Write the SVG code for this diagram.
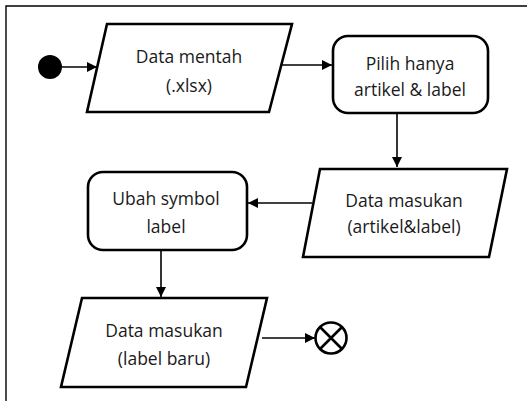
<svg xmlns="http://www.w3.org/2000/svg" width="527" height="401" viewBox="0 0 527 401">
  <style>
    .shape { fill: #ffffff; stroke: #000000; stroke-width: 2.6; stroke-linejoin: miter; }
    .edge { fill: none; stroke: #000000; stroke-width: 1.6; }
    .lbl { font-family: "Open Sans", "Liberation Sans", Arial, sans-serif; font-size: 17.5px; fill: #1a1a1a; text-anchor: middle; }
  </style>
  <defs>
    <marker id="arrow" viewBox="0 0 10 10" refX="10" refY="5" markerWidth="10" markerHeight="10" markerUnits="userSpaceOnUse" orient="auto">
      <path d="M0,0 L10,5 L0,10 Z" fill="#000000"/>
    </marker>
  </defs>

  <rect width="527" height="401" fill="#ffffff"/>
  <!-- frame: top and left edges only -->
  <path d="M6,401 L6,6 L527,6" fill="none" stroke="#000000" stroke-width="1.4"/>

  <g id="connectors">
    <path class="edge" d="M62,67 L97,67" marker-end="url(#arrow)"/>
    <path class="edge" d="M279,65 L332,65" marker-end="url(#arrow)"/>
    <path class="edge" d="M397,114 L397,167" marker-end="url(#arrow)"/>
    <path class="edge" d="M312,203 L248,203" marker-end="url(#arrow)"/>
    <path class="edge" d="M161,251 L161,297" marker-end="url(#arrow)"/>
    <path class="edge" d="M262,338 L315,338" marker-end="url(#arrow)"/>
  </g>

  <g id="start">
    <circle cx="50" cy="67" r="12" fill="#000000"/>
  </g>

  <g id="data-mentah">
    <polygon class="shape" points="107,24 292,24 269,112 87,112"/>
    <text class="lbl" x="189" y="63">Data mentah</text>
    <text class="lbl" x="189" y="92">(.xlsx)</text>
  </g>

  <g id="pilih-artikel-label">
    <rect class="shape" x="333" y="36" width="155" height="77" rx="15" ry="15"/>
    <text class="lbl" x="410" y="70">Pilih hanya</text>
    <text class="lbl" x="410" y="96">artikel &amp; label</text>
  </g>

  <g id="data-masukan-1">
    <polygon class="shape" points="320,169 507,169 489,257 303,257"/>
    <text class="lbl" x="404" y="207">Data masukan</text>
    <text class="lbl" x="404" y="233">(artikel&amp;label)</text>
  </g>

  <g id="ubah-symbol-label">
    <rect class="shape" x="88" y="172" width="159" height="78" rx="15" ry="15"/>
    <text class="lbl" x="166" y="205">Ubah symbol</text>
    <text class="lbl" x="166" y="233">label</text>
  </g>

  <g id="data-masukan-2">
    <polygon class="shape" points="82,298 267,298 246,387 61,387"/>
    <text class="lbl" x="164" y="337">Data masukan</text>
    <text class="lbl" x="164" y="365">(label baru)</text>
  </g>

  <g id="end">
    <circle class="shape" cx="331" cy="338" r="15.5"/>
    <path d="M320,327 L342,349 M342,327 L320,349" stroke="#000000" stroke-width="2.6"/>
  </g>
</svg>
